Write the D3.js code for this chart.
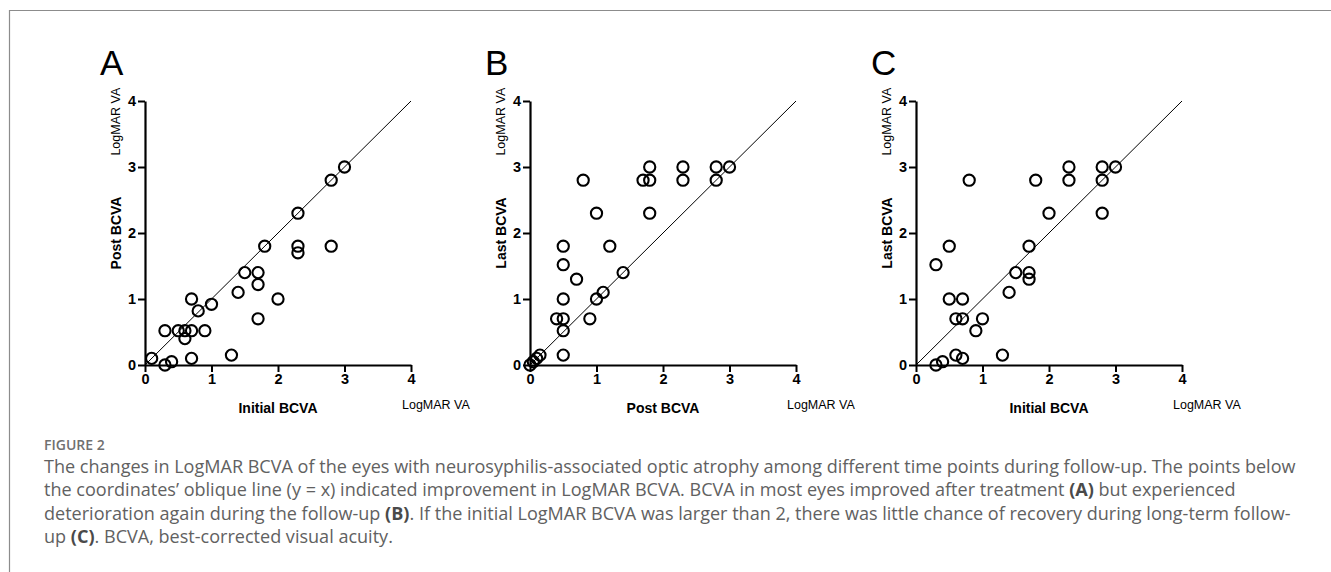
<!DOCTYPE html>
<html>
<head>
<meta charset="utf-8">
<script src="https://cdn.jsdelivr.net/npm/d3@7"></script>
<style>
  body { margin: 0; background: #fff; }
  svg { display: block; }
  .axis text { font-family: 'Liberation Sans', Arial, sans-serif; font-size: 14.5px; font-weight: bold; fill: #000; }
</style>
</head>
<body>
<div id="plot"></div>
<script>
// data (LogMAR VA)
const initialA = [0.1, 0.3, 0.4, 0.3, 0.5, 0.6, 0.6, 0.7, 0.7, 0.7, 0.8, 0.9, 1.0, 1.3, 1.4, 1.5, 1.7, 1.7, 1.7, 1.8, 2.0, 2.3, 2.3, 2.3, 2.8, 2.8, 3.0];
const postA    = [0.1, 0.0, 0.05, 0.52, 0.52, 0.52, 0.4, 0.52, 1.0, 0.1, 0.82, 0.52, 0.92, 0.15, 1.1, 1.4, 1.4, 1.22, 0.7, 1.8, 1.0, 2.3, 1.8, 1.7, 2.8, 1.8, 3.0];

const postB = [0.0, 0.05, 0.1, 0.15, 0.4, 0.5, 0.5, 0.5, 0.5, 0.5, 0.5, 0.7, 0.8, 0.9, 1.0, 1.0, 1.1, 1.2, 1.4, 1.7, 1.8, 1.8, 1.8, 2.3, 2.3, 2.8, 2.8, 3.0];
const lastB = [0.0, 0.05, 0.1, 0.15, 0.7, 0.7, 0.15, 0.52, 1.0, 1.52, 1.8, 1.3, 2.8, 0.7, 1.0, 2.3, 1.1, 1.8, 1.4, 2.8, 2.8, 3.0, 2.3, 3.0, 2.8, 3.0, 2.8, 3.0];

const initialC = [0.3, 0.3, 0.4, 0.5, 0.5, 0.6, 0.6, 0.7, 0.7, 0.7, 0.8, 0.9, 1.0, 1.3, 1.4, 1.5, 1.7, 1.7, 1.7, 1.8, 2.0, 2.3, 2.3, 2.8, 2.8, 2.8, 3.0];
const lastC    = [1.52, 0.0, 0.05, 1.8, 1.0, 0.7, 0.15, 1.0, 0.7, 0.1, 2.8, 0.52, 0.7, 0.15, 1.1, 1.4, 1.4, 1.3, 1.8, 2.8, 2.3, 3.0, 2.8, 3.0, 2.8, 2.3, 3.0];

const ticks = [0, 1, 2, 3, 4];
const panelLetters = ["A", "B", "C"];
const xTitles = ["Initial BCVA", "Post BCVA", "Initial BCVA"];
const yTitles = ["Post BCVA", "Last BCVA", "Last BCVA"];
const unitLabel = "LogMAR VA";

const captionHead = "FIGURE 2";
const captionLines = [
  [["The changes in LogMAR BCVA of the eyes with neurosyphilis-associated optic atrophy among different time points during follow-up. The points below", false]],
  [["the coordinates\u2019 oblique line (y = x) indicated improvement in LogMAR BCVA. BCVA in most eyes improved after treatment ", false], ["(A)", true], [" but experienced", false]],
  [["deterioration again during the follow-up ", false], ["(B)", true], [". If the initial LogMAR BCVA was larger than 2, there was little chance of recovery during long-term follow-", false]],
  [["up ", false], ["(C)", true], [". BCVA, best-corrected visual acuity.", false]]
];

const w = 1331;
const h = 572;
const panelLeft = [145, 530, 916];
const plotW = 266;
const plotTop = 101;
const plotBottom = 365;
const font = "'Liberation Sans', Arial, sans-serif";

const svg = d3.select("div#plot")
    .append("svg")
    .attr("width", w)
    .attr("height", h);

svg.append("rect")
    .attr("width", w)
    .attr("height", h)
    .attr("fill", "#fff");

// frame lines
svg.append("path")
    .attr("d", `M9.5,${h} V10.5 H${w}`)
    .attr("fill", "none")
    .attr("stroke", "#8c8c8c")
    .attr("stroke-width", 1.2);

const panels = [
  {x: initialA, y: postA},
  {x: postB, y: lastB},
  {x: initialC, y: lastC}
];

panels.forEach((p, i) => {
  const g = svg.append("g")
      .attr("transform", `translate(${panelLeft[i]}, 0)`);

  const xScale = d3.scaleLinear().domain([0, 4]).range([0, plotW]);
  const yScale = d3.scaleLinear().domain([0, 4]).range([plotBottom, plotTop]);

  // y = x line
  g.append("line")
      .attr("x1", xScale(0)).attr("y1", yScale(0))
      .attr("x2", xScale(4)).attr("y2", yScale(4))
      .attr("stroke", "#000")
      .attr("stroke-width", 1);

  const xAxis = d3.axisBottom(xScale).tickValues(ticks).tickFormat(d3.format("d"))
      .tickSizeInner(7).tickSizeOuter(0).tickPadding(2);
  const yAxis = d3.axisLeft(yScale).tickValues(ticks).tickFormat(d3.format("d"))
      .tickSizeInner(7).tickSizeOuter(0).tickPadding(2);

  const gx = g.append("g")
      .attr("class", "axis")
      .attr("transform", `translate(0, ${plotBottom})`)
      .call(xAxis);
  const gy = g.append("g")
      .attr("class", "axis")
      .call(yAxis);

  [gx, gy].forEach(a => {
    a.select(".domain").attr("stroke-width", 2.2);
    a.selectAll(".tick line").attr("stroke-width", 2);
  });

  g.selectAll("circle.pt")
      .data(p.x.map((d, k) => [d, p.y[k]]))
      .enter().append("circle")
      .attr("class", "pt")
      .attr("cx", d => xScale(d[0]))
      .attr("cy", d => yScale(d[1]))
      .attr("r", 5.6)
      .attr("fill", "none")
      .attr("stroke", "#000")
      .attr("stroke-width", 2.1);

  // panel letter
  g.append("text")
      .attr("x", -45)
      .attr("y", 75)
      .attr("font-family", font)
      .attr("font-size", 35)
      .attr("fill", "#000")
      .text(panelLetters[i]);

  // x titles
  g.append("text")
      .attr("x", plotW / 2)
      .attr("y", 412.5)
      .attr("text-anchor", "middle")
      .attr("font-family", font)
      .attr("font-size", 14)
      .attr("font-weight", "bold")
      .text(xTitles[i]);

  g.append("text")
      .attr("x", plotW - 9)
      .attr("y", 409)
      .attr("font-family", font)
      .attr("font-size", 12.5)
      .text(unitLabel);

  // y titles
  g.append("text")
      .attr("transform", `translate(-24, ${yScale(2)}) rotate(-90)`)
      .attr("text-anchor", "middle")
      .attr("font-family", font)
      .attr("font-size", 14)
      .attr("font-weight", "bold")
      .text(yTitles[i]);

  g.append("text")
      .attr("transform", `translate(-25.5, 121.7) rotate(-90)`)
      .attr("text-anchor", "middle")
      .attr("font-family", font)
      .attr("font-size", 12.5)
      .text(unitLabel);
});

// caption
svg.append("text")
    .attr("x", 44)
    .attr("y", 449.5)
    .attr("font-family", "'Open Sans', sans-serif")
    .attr("font-size", 14)
    .attr("font-weight", 600)
    .attr("fill", "#707070")
    .text(captionHead);

const cap = svg.append("g")
    .attr("font-family", "'Open Sans', sans-serif")
    .attr("fill", "#616161");

let capSize = 16.5;
const lines = captionLines.map((parts, li) => {
  const t = cap.append("text")
      .attr("x", 44)
      .attr("y", 472.5 + li * 23.6)
      .attr("font-size", capSize);
  parts.forEach(pt => {
    t.append("tspan")
        .attr("font-weight", pt[1] ? "bold" : null)
        .attr("fill", pt[1] ? "#4a4a4a" : null)
        .text(pt[0]);
  });
  return t;
});

// fit first line to the width it takes in the figure
const len0 = lines[0].node().getComputedTextLength();
capSize = capSize * 1252 / len0;
lines.forEach(t => t.attr("font-size", capSize));
</script>
</body>
</html>
